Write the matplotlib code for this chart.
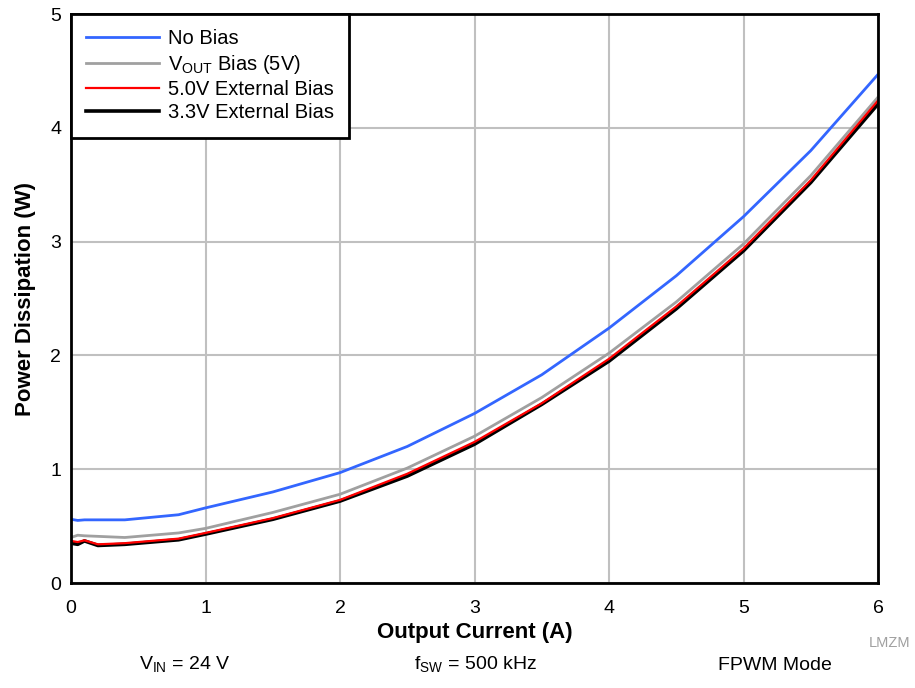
import matplotlib
matplotlib.use("Agg")
import matplotlib.pyplot as plt

plt.rcParams['font.family'] = ['Liberation Sans', 'DejaVu Sans']
plt.rcParams['mathtext.fontset'] = 'custom'
plt.rcParams['mathtext.rm'] = 'Liberation Sans'

x = [0.0, 0.05, 0.1, 0.2, 0.4, 0.8, 1.0, 1.5, 2.0, 2.5, 3.0, 3.5, 4.0, 4.5, 5.0, 5.5, 6.0]
no_bias = [0.56, 0.55, 0.555, 0.555, 0.555, 0.60, 0.66, 0.80, 0.97, 1.20, 1.49, 1.83, 2.24, 2.70, 3.22, 3.80, 4.47]
vout_bias = [0.40, 0.42, 0.415, 0.41, 0.40, 0.44, 0.48, 0.62, 0.78, 1.01, 1.29, 1.63, 2.02, 2.47, 2.98, 3.58, 4.27]
ext5 = [0.37, 0.36, 0.375, 0.34, 0.35, 0.39, 0.44, 0.57, 0.73, 0.96, 1.24, 1.58, 1.97, 2.43, 2.94, 3.54, 4.24]
ext33 = [0.35, 0.34, 0.37, 0.33, 0.34, 0.38, 0.43, 0.56, 0.72, 0.94, 1.22, 1.57, 1.95, 2.41, 2.92, 3.52, 4.21]

labels = ['No Bias', r'V$_{\mathregular{OUT}}$ Bias (5V)', '5.0V External Bias', '3.3V External Bias']
colors = ['#3366ff', '#a0a0a0', '#ff0000', '#000000']

fig = plt.figure(figsize=(9.15, 6.88), dpi=100)
ax = fig.add_axes([0.0776, 0.1526, 0.882, 0.827])

ax.plot(x, no_bias, color=colors[0], lw=2, label=labels[0])
ax.plot(x, vout_bias, color=colors[1], lw=2, label=labels[1])
ax.plot(x, ext33, color=colors[3], lw=2.6, label=labels[3])
ax.plot(x, ext5, color=colors[2], lw=1.6, label=labels[2])

ax.set_xlim(0, 6)
ax.set_ylim(0, 5)
ax.set_xticks(range(0, 7))
ax.set_yticks(range(0, 6))
ax.grid(True, color='#c0c0c0', lw=1.5)
ax.set_axisbelow(True)
for s in ax.spines.values():
    s.set_linewidth(2)
ax.tick_params(axis='x', length=0, labelsize=14, pad=12)
ax.tick_params(axis='y', length=0, labelsize=14, pad=7)

ax.set_xlabel('Output Current (A)', fontsize=16, fontweight='bold', labelpad=4)
ax.set_ylabel('Power Dissipation (W)', fontsize=16, fontweight='bold', labelpad=10)

h, l = ax.get_legend_handles_labels()
order = [0, 1, 3, 2]
leg = ax.legend([h[i] for i in order], [l[i] for i in order], loc='upper left',
                fontsize=14.5, frameon=True, fancybox=False, borderaxespad=0,
                handlelength=3.6, labelspacing=0.22, borderpad=0.75, handletextpad=0.45)
leg.get_frame().set_edgecolor('black')
leg.get_frame().set_linewidth(2)
leg.get_frame().set_alpha(1)

fig.text(185/915, 1 - 665/688, r'V$_{\mathregular{IN}}$ = 24 V', ha='center', va='center', fontsize=14)
fig.text(475/915, 1 - 665/688, r'f$_{\mathregular{SW}}$ = 500 kHz', ha='center', va='center', fontsize=14)
fig.text(775/915, 1 - 665/688, 'FPWM Mode', ha='center', va='center', fontsize=14)
fig.text(890/915, 1 - 643/688, 'LMZM', ha='center', va='center', fontsize=10.5, color='#a0a0a0')

fig.savefig('out.png', dpi=100)
